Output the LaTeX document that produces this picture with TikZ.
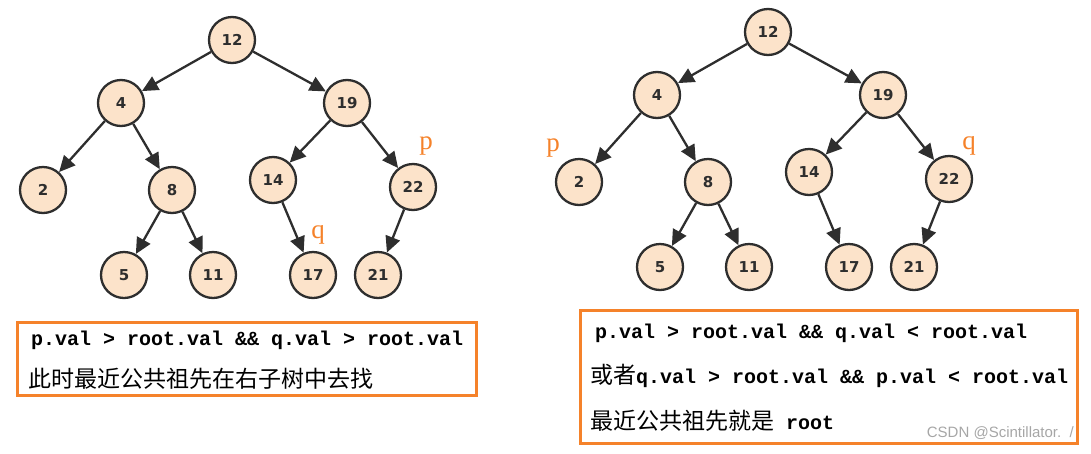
\documentclass[tikz,border=0pt]{standalone}
\usepackage{fontspec}
\setmainfont{Liberation Serif}
\newfontfamily\cjk{Noto Sans CJK SC}
\newfontfamily\codefont{Liberation Mono}
\newfontfamily\digitfont{DejaVu Sans}
\newfontfamily\markfont{Liberation Sans}
\usetikzlibrary{arrows.meta,calc,positioning}

\definecolor{nodefill}{HTML}{FCE3CA}
\definecolor{nodeline}{HTML}{2E2E2E}
\definecolor{markorange}{HTML}{F5822A}

\newcommand{\zh}[1]{{\cjk\mdseries\fontsize{23}{26}\selectfont #1}}

\tikzset{
  bst/.style={circle, draw=nodeline, line width=2.3pt, fill=nodefill,
              minimum size=46pt, inner sep=0pt,
              font=\digitfont\bfseries\fontsize{15}{15}\selectfont, text=nodeline},
  edge/.style={-{Triangle[length=16pt,width=15pt]}, draw=nodeline, line width=2.3pt},
  pq/.style={text=markorange, font=\fontsize{27}{27}\selectfont, inner sep=0pt},
  infobox/.style={draw=markorange, line width=3pt, inner sep=0pt},
  codeline/.style={anchor=west, inner sep=0pt, font=\codefont\bfseries\fontsize{20}{24}\selectfont}
}

\begin{document}
\begin{tikzpicture}[x=1pt, y=-1pt]
\useasboundingbox (0,0) rectangle (1091,453);

% the same tree twice, right copy shifted
\foreach \side/\dx/\dy in {L/0/0, R/536/-8}{
\begin{scope}[shift={(\dx,\dy)}, name prefix=\side-]
  \node[bst] (n12) at (232,40)  {12};
  \node[bst] (n4)  at (121,103) {4};
  \node[bst] (n19) at (347,103) {19};
  \node[bst] (n2)  at (43,190)  {2};
  \node[bst] (n8)  at (172,190) {8};
  \node[bst] (n14) at (273,180) {14};
  \node[bst] (n22) at (413,187) {22};
  \node[bst] (n5)  at (124,275) {5};
  \node[bst] (n11) at (213,275) {11};
  \node[bst] (n17) at (313,275) {17};
  \node[bst] (n21) at (378,275) {21};

  \draw[edge] (n12) -- (n4);
  \draw[edge] (n12) -- (n19);
  \draw[edge] (n4)  -- (n2);
  \draw[edge] (n4)  -- (n8);
  \draw[edge] (n19) -- (n14);
  \draw[edge] (n19) -- (n22);
  \draw[edge] (n8)  -- (n5);
  \draw[edge] (n8)  -- (n11);
  \draw[edge] (n14) -- (n17);
  \draw[edge] (n22) -- (n21);
\end{scope}
}

% p and q
\node[pq] (pL) at ($(L-n22)+(13,-41)$) {p};
\node[pq] (qL) at ($(L-n17)+(5,-40)$)  {q};
\node[pq] (pR) at ($(R-n2)+(-26,-34)$) {p};
\node[pq] (qR) at ($(R-n22)+(20,-33)$) {q};

% left box
\node[infobox, minimum width=459pt, minimum height=73pt] (boxL) at (246.5,358.5) {};
\node[codeline] (l1) at (31,340) {p.val > root.val \&\& q.val > root.val};
\node[codeline] (l2) at (28,379) {\zh{此时最近公共祖先在右子树中去找}};

% right box
\node[infobox, minimum width=497pt, minimum height=133pt] (boxR) at (828.5,376.5) {};
\node[codeline] (r1) at (595,333) {p.val > root.val \&\& q.val < root.val};
\node[codeline] (r2) at (590,376) {\zh{或者}q.val > root.val \&\& p.val < root.val};
\node[codeline] (r3) at (590,421) {\zh{最近公共祖先就是} root};

\node[anchor=east, inner sep=0pt, text=black!35, font=\markfont\fontsize{15}{15}\selectfont]
  (wm) at (1074,433) {CSDN @Scintillator.~~/};
\end{tikzpicture}
\end{document}
